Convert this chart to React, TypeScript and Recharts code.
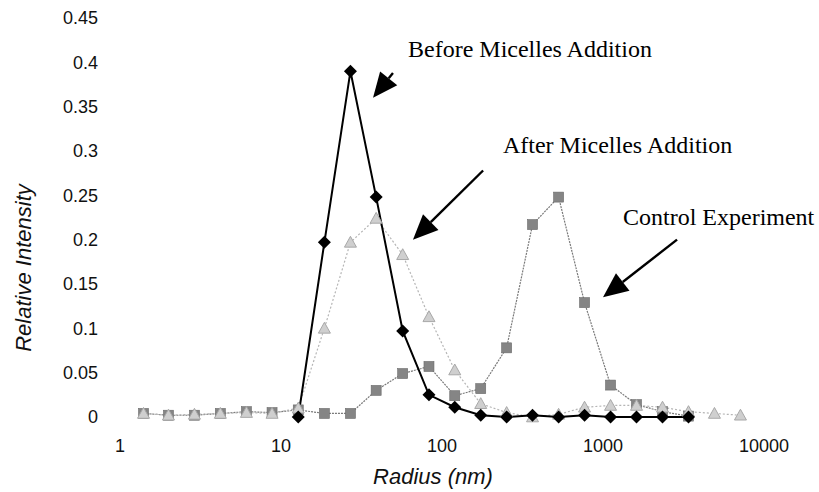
import {
  LineChart,
  Line,
  XAxis,
  YAxis,
  ReferenceLine,
  ReferenceDot,
} from "recharts";

// radius bins (nm), log spaced
const radius = [
  1.4, 2.0, 2.9, 4.2, 6.1, 8.8, 12.8, 18.6, 27, 39, 57, 83, 120, 174, 252,
  365, 530, 768, 1114, 1615, 2342, 3396, 4924, 7140,
];

const before = [
  null, null, null, null, null, null, 0.0, 0.197, 0.39, 0.248, 0.097, 0.025,
  0.011, 0.002, 0.0, 0.002, 0.0, 0.002, 0.0, 0.0, 0.0, 0.0, null, null,
];

const after = [
  0.004, 0.002, 0.003, 0.004, 0.005, 0.004, 0.01, 0.1, 0.197, 0.224, 0.183,
  0.113, 0.053, 0.015, 0.005, 0.0, 0.003, 0.011, 0.013, 0.013, 0.011, 0.006,
  0.004, 0.002,
];

const control = [
  0.004, 0.002, 0.002, 0.004, 0.006, 0.005, 0.008, 0.004, 0.004, 0.03, 0.049,
  0.057, 0.024, 0.032, 0.078, 0.217, 0.248, 0.129, 0.036, 0.014, 0.006, 0.001,
  null, null,
];

const xTicks = [1, 10, 100, 1000, 10000];
const yTicks = [0, 0.05, 0.1, 0.15, 0.2, 0.25, 0.3, 0.35, 0.4, 0.45];

// annotation arrows (data coords): start, tip, text anchor
const arrows = [
  { label: "Before Micelles Addition", from: [49.6, 0.388], tip: [37.3, 0.36], text: [61.5, 0.406] },
  { label: "After Micelles Addition", from: [180, 0.278], tip: [66, 0.2], text: [239, 0.298] },
  { label: "Control Experiment", from: [2884, 0.2], tip: [1000, 0.135], text: [1331, 0.2165] },
];

const toSeries = (vals: (number | null)[]) =>
  radius
    .map((r, i) => ({ r, v: vals[i] }))
    .filter((d) => d.v !== null);

const beforeData = toSeries(before);
const afterData = toSeries(after);
const controlData = toSeries(control);

const SANS = "Liberation Sans, Arial, sans-serif";
const SERIF = "Liberation Serif, Times New Roman, serif";

const Diamond = (props: any) => {
  const { cx, cy } = props;
  if (cx == null || cy == null) return null;
  const s = 6.5;
  return (
    <path
      d={`M${cx},${cy - s}L${cx + s},${cy}L${cx},${cy + s}L${cx - s},${cy}Z`}
      fill="#000"
    />
  );
};

const Triangle = (props: any) => {
  const { cx, cy } = props;
  if (cx == null || cy == null) return null;
  const s = 6;
  return (
    <path
      d={`M${cx},${cy - s}L${cx + s},${cy + s * 0.8}L${cx - s},${cy + s * 0.8}Z`}
      fill="#cfcfcf"
      stroke="#a8a8a8"
      strokeWidth={1}
    />
  );
};

const Square = (props: any) => {
  const { cx, cy } = props;
  if (cx == null || cy == null) return null;
  const s = 5;
  return (
    <rect
      x={cx - s}
      y={cy - s}
      width={s * 2}
      height={s * 2}
      fill="#858585"
      stroke="#6a6a6a"
      strokeWidth={0.6}
    />
  );
};

const ArrowShape = (props: any) => {
  const { x1, y1, x2, y2 } = props;
  if ([x1, y1, x2, y2].some((v) => v == null || isNaN(v))) return null;
  const dx = x2 - x1;
  const dy = y2 - y1;
  const len = Math.sqrt(dx * dx + dy * dy);
  const ux = dx / len;
  const uy = dy / len;
  const headLen = 25;
  const headW = 11;
  const bx = x2 - ux * headLen;
  const by = y2 - uy * headLen;
  return (
    <g>
      <line x1={x1} y1={y1} x2={bx} y2={by} stroke="#000" strokeWidth={2.4} />
      <path
        d={`M${x2},${y2}L${bx - uy * headW},${by + ux * headW}L${bx + uy * headW},${by - ux * headW}Z`}
        fill="#000"
      />
    </g>
  );
};

const fmtY = (v: number) => String(Number(v.toFixed(2)));

export default function App() {
  return (
    <div style={{ position: "absolute", left: 0, top: 0, background: "#fff" }}>
      <LineChart
        width={819}
        height={492}
        margin={{ top: 18, right: 55, left: 0, bottom: 0 }}
      >
        <XAxis
          dataKey="r"
          type="number"
          scale="log"
          domain={[1, 10000]}
          ticks={xTicks}
          allowDataOverflow
          axisLine={false}
          tickLine={false}
          height={75}
          tickMargin={16}
          tick={{ fontSize: 18, fill: "#111", fontFamily: SANS }}
          label={{
            content: () => (
              <text
                x={433}
                y={484}
                textAnchor="middle"
                fontSize={22}
                fontStyle="italic"
                fill="#111"
                fontFamily={SANS}
              >
                Radius (nm)
              </text>
            ),
          }}
        />
        <YAxis
          type="number"
          domain={[0, 0.45]}
          ticks={yTicks}
          tickFormatter={fmtY}
          width={120}
          axisLine={false}
          tickLine={false}
          tickMargin={16}
          tick={{ fontSize: 18, fill: "#111", fontFamily: SANS }}
          label={{
            content: () => (
              <text
                transform="translate(31,268) rotate(-90)"
                textAnchor="middle"
                fontSize={22}
                fontStyle="italic"
                fill="#111"
                fontFamily={SANS}
              >
                Relative Intensity
              </text>
            ),
          }}
        />
        <Line
          data={controlData}
          dataKey="v"
          stroke="#7a7a7a"
          strokeWidth={1.2}
          strokeDasharray="2 1"
          dot={<Square />}
          isAnimationActive={false}
        />
        <Line
          data={afterData}
          dataKey="v"
          stroke="#b5b5b5"
          strokeWidth={1.2}
          strokeDasharray="2 2"
          dot={<Triangle />}
          isAnimationActive={false}
        />
        <Line
          data={beforeData}
          dataKey="v"
          stroke="#000"
          strokeWidth={2}
          dot={<Diamond />}
          isAnimationActive={false}
        />
        {arrows.map((a) => (
          <ReferenceLine
            key={a.label}
            segment={[
              { x: a.from[0], y: a.from[1] },
              { x: a.tip[0], y: a.tip[1] },
            ]}
            shape={ArrowShape}
          />
        ))}
        {arrows.map((a) => (
          <ReferenceDot
            key={a.label + "-t"}
            x={a.text[0]}
            y={a.text[1]}
            r={0}
            shape={(p: any) => (
              <text
                x={p.cx}
                y={p.cy}
                fontSize={24}
                fill="#000"
                fontFamily={SERIF}
              >
                {a.label}
              </text>
            )}
          />
        ))}
      </LineChart>
    </div>
  );
}
